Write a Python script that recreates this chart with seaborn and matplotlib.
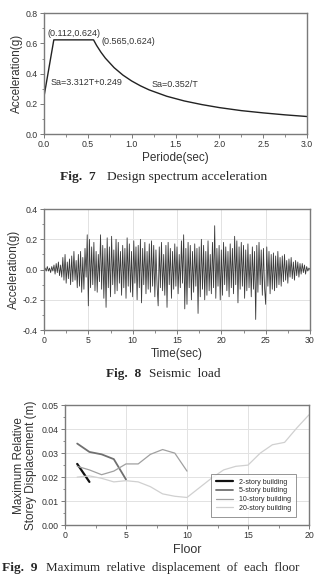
import numpy as np
import pandas as pd
import seaborn as sns
import matplotlib
matplotlib.use('Agg')
import matplotlib.pyplot as plt
from matplotlib.ticker import AutoMinorLocator, MultipleLocator, FormatStrFormatter

# Fig. 7 - design spectrum
period = [0.0, 0.112, 0.565, 0.6, 0.65, 0.7, 0.8, 0.9, 1.0, 1.1, 1.2, 1.4, 1.6, 1.8, 2.0,
          2.25, 2.5, 2.75, 3.0]
spectrum = [0.249, 0.624, 0.624, 0.587, 0.542, 0.503, 0.440, 0.391, 0.352, 0.320, 0.293,
            0.251, 0.220, 0.196, 0.176, 0.156, 0.141, 0.128, 0.117]

# Fig. 8 - seismic load, 8 samples per second
accel = [
    0.00, 0.01, -0.01, 0.02, -0.01, 0.01, -0.02, 0.02,
    -0.01, 0.03, -0.03, 0.04, -0.02, 0.05, -0.04, 0.03,
    -0.05, 0.08, -0.07, 0.10, -0.09, 0.05, -0.06, 0.07,
    -0.10, 0.09, -0.08, 0.12, -0.07, 0.06, -0.12, 0.10,
    -0.11, 0.12, -0.15, 0.08, -0.13, 0.14, -0.05, 0.23,
    -0.24, 0.20, -0.12, 0.15, -0.10, 0.18, -0.14, 0.12,
    -0.15, 0.10, -0.08, 0.23, -0.13, 0.16, -0.19, 0.14,
    -0.25, 0.21, -0.12, 0.15, -0.18, 0.22, -0.10, 0.13,
    -0.16, 0.20, -0.14, 0.18, -0.09, 0.12, -0.17, 0.16,
    -0.12, 0.14, -0.19, 0.21, -0.11, 0.17, -0.15, 0.12,
    -0.18, 0.19, -0.09, 0.15, -0.20, 0.16, -0.12, 0.20,
    -0.22, 0.14, -0.10, 0.18, -0.16, 0.12, -0.13, 0.17,
    -0.15, 0.19, -0.11, 0.16, -0.18, 0.13, -0.10, -0.24,
    0.15, -0.12, 0.18, -0.14, 0.10, -0.17, 0.16, -0.25,
    0.18, -0.10, 0.14, -0.19, 0.12, -0.13, 0.17, -0.11,
    0.15, -0.16, 0.10, -0.12, 0.19, -0.09, 0.23, -0.26,
    0.14, -0.23, 0.18, -0.12, 0.16, -0.20, 0.12, -0.15,
    0.17, -0.11, 0.14, -0.29, 0.15, -0.18, 0.20, -0.13,
    0.16, -0.20, 0.12, -0.17, 0.19, -0.14, 0.10, -0.16,
    0.18, -0.12, 0.29, -0.19, 0.14, -0.11, 0.16, -0.20,
    0.13, -0.17, 0.18, -0.10, 0.15, -0.14, 0.12, -0.18,
    0.17, -0.12, 0.14, -0.16, 0.22, -0.10, 0.19, -0.22,
    0.15, -0.13, 0.18, -0.11, 0.16, -0.19, 0.13, -0.14,
    0.17, -0.12, 0.10, -0.18, 0.15, -0.13, 0.12, -0.33,
    0.16, -0.15, 0.18, -0.10, 0.13, -0.17, 0.14, -0.12,
    -0.23, 0.15, -0.11, 0.12, -0.16, 0.10, -0.13, 0.11,
    -0.14, 0.09, -0.12, 0.12, -0.10, 0.08, -0.11, 0.09,
    -0.08, 0.10, -0.07, 0.06, -0.09, 0.07, -0.05, 0.08,
    -0.06, 0.05, -0.07, 0.06, -0.04, 0.05, -0.05, 0.04,
    -0.03, 0.04, -0.02, 0.03, -0.03, 0.02, -0.01, 0.01, 0.00]
time = np.linspace(0, 30, len(accel))

# Fig. 9 - maximum relative storey displacement
disp_2 = [0.0255, 0.018]
disp_5 = [0.034, 0.0305, 0.0295, 0.0275, 0.019]
disp_10 = [0.0245, 0.023, 0.021, 0.0225, 0.0255, 0.0255, 0.0295, 0.0315, 0.030, 0.0225]
disp_20 = [0.020, 0.0205, 0.0195, 0.018, 0.0185, 0.018, 0.016, 0.013, 0.012, 0.0115,
           0.0155, 0.0195, 0.023, 0.0245, 0.025, 0.030, 0.0335, 0.0345, 0.0405, 0.046]
series_names = ['2-story building', '5-story building', '10-story building', '20-story building']

sns.set_style('ticks')
plt.rcParams['font.family'] = ['Liberation Sans', 'DejaVu Sans']

fig = plt.figure(figsize=(3.14, 5.76), dpi=100)


def style_axes(ax, grid=False):
    for s in ax.spines.values():
        s.set_color('#7a7a7a')
        s.set_linewidth(1.0)
    ax.tick_params(axis='both', which='major', labelsize=6.3, length=3, width=0.7,
                   color='#7a7a7a', pad=1.5, labelcolor='#333333')
    ax.tick_params(axis='both', which='minor', length=1.8, width=0.6, color='#7a7a7a')
    ax.xaxis.set_minor_locator(AutoMinorLocator(2))
    ax.yaxis.set_minor_locator(AutoMinorLocator(2))
    if grid:
        ax.grid(True, which='major', color='#e2e2e2', linewidth=0.7)
        ax.set_axisbelow(True)


def caption(y, x_bold, x_text, text, size=10):
    fig.text(x_bold / 314, y, 'Fig.  ' + text[0], family='Liberation Serif',
             fontweight='bold', fontsize=size, va='center')
    fig.text(x_text / 314, y, text[1], family='Liberation Serif', fontsize=size, va='center')


# ---- Fig. 7 ----
ax1 = fig.add_axes([44 / 314, 0.767, 263 / 314, 0.210])
sns.lineplot(x=period, y=spectrum, ax=ax1, color='#222222', linewidth=1.0)
ax1.set_xlim(0, 3)
ax1.set_ylim(0, 0.8)
ax1.xaxis.set_major_locator(MultipleLocator(0.5))
ax1.yaxis.set_major_locator(MultipleLocator(0.2))
ax1.xaxis.set_major_formatter(FormatStrFormatter('%.1f'))
ax1.yaxis.set_major_formatter(FormatStrFormatter('%.1f'))
style_axes(ax1)
ax1.set_xlabel('Periode(sec)', fontsize=8.5, labelpad=2, color='#333333')
ax1.set_ylabel('Acceleration(g)', fontsize=8.5, labelpad=2, color='#333333')
ax1.text(0.045, 0.667, '(0.112,0.624)', fontsize=6.5, va='center', color='#333333')
ax1.text(0.66, 0.615, '(0.565,0.624)', fontsize=6.5, va='center', color='#333333')
ax1.text(0.07, 0.343, 'Sa=3.312T+0.249', fontsize=6.5, va='center', color='#333333')
ax1.text(1.23, 0.330, 'Sa=0.352/T', fontsize=6.5, va='center', color='#333333')
caption(1 - 177 / 576, 60, 107, ('7', 'Design spectrum acceleration'), size=9.7)

# ---- Fig. 8 ----
ax2 = fig.add_axes([44 / 314, 0.427, 266 / 314, 0.210])
sns.lineplot(x=time, y=accel, ax=ax2, color='#3a3a3a', linewidth=0.6)
ax2.set_xlim(0, 30)
ax2.set_ylim(-0.4, 0.4)
ax2.xaxis.set_major_locator(MultipleLocator(5))
ax2.yaxis.set_major_locator(MultipleLocator(0.2))
ax2.yaxis.set_major_formatter(FormatStrFormatter('%.1f'))
style_axes(ax2, grid=True)
ax2.set_xlabel('Time(sec)', fontsize=8.5, labelpad=2, color='#333333')
ax2.set_ylabel('Acceleration(g)', fontsize=8.5, labelpad=2, color='#333333')
caption(1 - 374 / 576, 106, 149, ('8', 'Seismic  load'), size=9.5)

# ---- Fig. 9 ----
ax3 = fig.add_axes([65 / 314, 0.0885, 244 / 314, 0.208])
colors = ['#111111', '#707070', '#a0a0a0', '#d0d0d0']
widths = [1.6, 1.3, 0.9, 0.9]
for name, vals, c, w in zip(series_names, [disp_2, disp_5, disp_10, disp_20], colors, widths):
    floors = list(range(1, len(vals) + 1))
    sns.lineplot(x=floors, y=vals, ax=ax3, color=c, linewidth=w, label=name)
ax3.set_xlim(0, 20)
ax3.set_ylim(0, 0.05)
ax3.xaxis.set_major_locator(MultipleLocator(5))
ax3.yaxis.set_major_locator(MultipleLocator(0.01))
ax3.yaxis.set_major_formatter(FormatStrFormatter('%.2f'))
style_axes(ax3, grid=True)
ax3.set_xlabel('Floor', fontsize=9, labelpad=3, color='#333333')
ax3.set_ylabel('Maximum Relative\nStorey Displacement (m)', fontsize=8.5, labelpad=3,
               color='#333333', linespacing=1.0)
leg = ax3.legend(loc='lower right', fontsize=5, frameon=True, fancybox=False,
                 edgecolor='#7a7a7a', handlelength=2.5, borderpad=0.7, labelspacing=0.25,
                 bbox_to_anchor=(0.96, 0.04))
leg.get_frame().set_linewidth(0.7)
fig.text(2 / 314, 1 - 568 / 576, 'Fig.  9', family='Liberation Serif', fontweight='bold',
         fontsize=9.6, va='center')
fig.text(46 / 314, 1 - 568 / 576, 'Maximum  relative  displacement  of  each  floor',
         family='Liberation Serif', fontsize=9.4, va='center')

fig.savefig('out.png', dpi=100)
